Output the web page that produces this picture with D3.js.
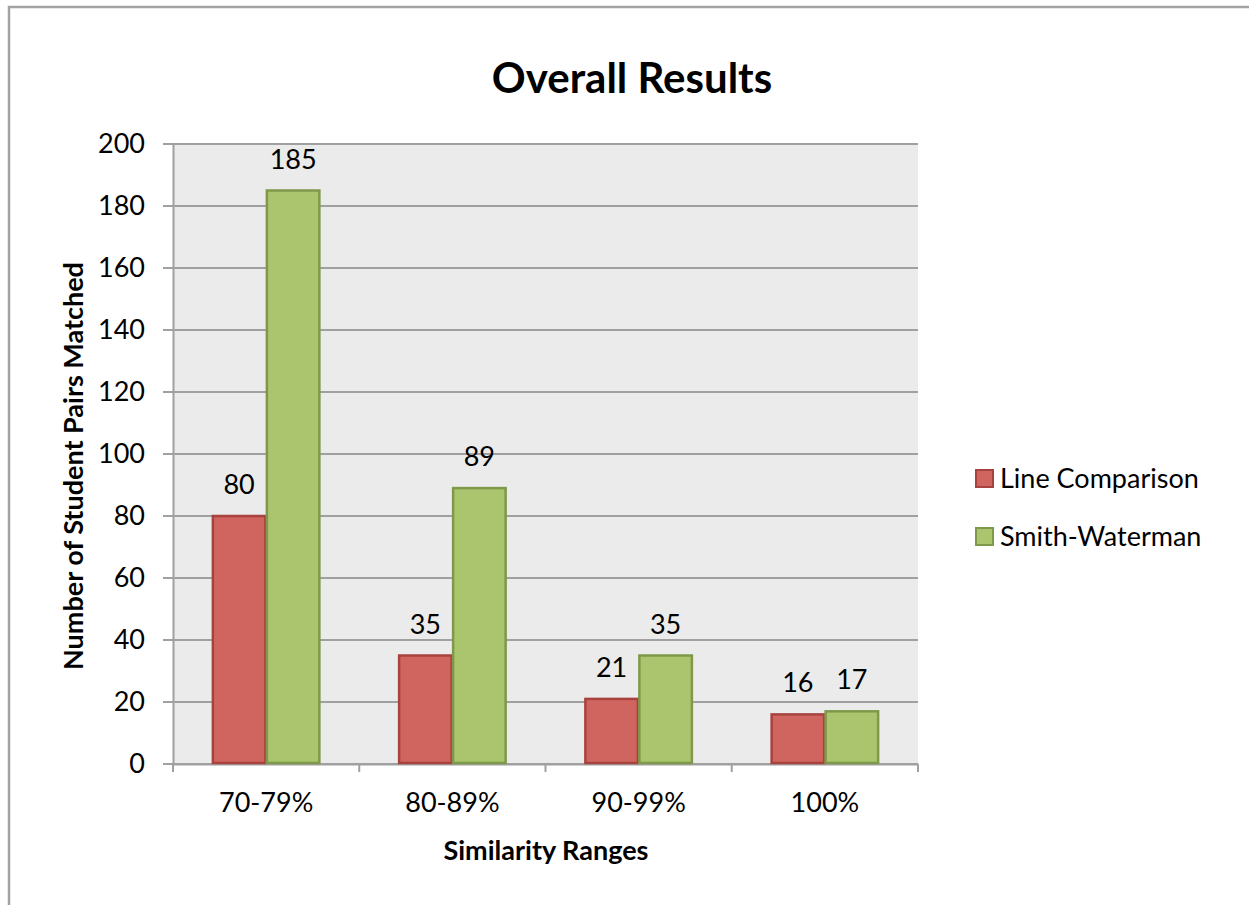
<!DOCTYPE html>
<html>
<head>
<meta charset="utf-8">
<script src="https://cdn.jsdelivr.net/npm/d3@7"></script>
<style>
  body { margin: 0; background: #fff; }
  svg { font-family: Lato, "Open Sans", sans-serif; }
</style>
</head>
<body>
<div id="chart"></div>
<script>
var categories = ["70-79%", "80-89%", "90-99%", "100%"];
var seriesNames = ["Line Comparison", "Smith-Waterman"];
var lineComparison = [80, 35, 21, 16];
var smithWaterman = [185, 89, 35, 17];
var yTicks = [0, 20, 40, 60, 80, 100, 120, 140, 160, 180, 200];

var width = 1249, height = 905;
var margin = {left: 173, right: 331, top: 144, bottom: 141};
var fills = ["#d0655f", "#abc56e"];
var strokes = ["#a8423e", "#7f994a"];
var fontSize = 27;

var svg = d3.select("#chart").append("svg")
    .attr("width", width)
    .attr("height", height);

// outer chart frame (runs off the right/bottom edge)
svg.append("rect")
    .attr("x", 9).attr("y", 7)
    .attr("width", 1300).attr("height", 1000)
    .attr("fill", "#fff")
    .attr("stroke", "#a3a3a3")
    .attr("stroke-width", 2.5);

var x0 = d3.scaleBand()
    .domain(categories)
    .range([margin.left, width - margin.right]);

var barW = 54;
var x1 = d3.scaleBand()
    .domain([0, 1])
    .range([x0.bandwidth() / 2 - barW, x0.bandwidth() / 2 + barW]);

var y = d3.scaleLinear()
    .domain([0, 200])
    .range([height - margin.bottom, margin.top]);

// plot background
svg.append("rect")
    .attr("x", margin.left).attr("y", margin.top)
    .attr("width", width - margin.left - margin.right)
    .attr("height", height - margin.top - margin.bottom)
    .attr("fill", "#ebebeb");

// gridlines
svg.append("g")
    .selectAll("line")
    .data(yTicks)
    .enter().append("line")
    .attr("x1", margin.left - 10)
    .attr("x2", width - margin.right)
    .attr("y1", function(d) { return y(d); })
    .attr("y2", function(d) { return y(d); })
    .attr("stroke", "#a0a0a0")
    .attr("stroke-width", 2);

// y axis
var yAxis = svg.append("g")
    .attr("transform", "translate(" + margin.left + ",0)")
    .call(d3.axisLeft(y).tickValues(yTicks).tickSize(0).tickPadding(28));
yAxis.select(".domain").attr("stroke", "#a0a0a0").attr("stroke-width", 2);
yAxis.selectAll("text").attr("font-size", fontSize).attr("fill", "#000")
    .style("font-family", "Lato, 'Open Sans', sans-serif");

// x axis
var xAxis = svg.append("g")
    .attr("transform", "translate(0," + (height - margin.bottom) + ")")
    .call(d3.axisBottom(x0).tickSize(0).tickPadding(29));
xAxis.select(".domain").attr("stroke", "#a0a0a0").attr("stroke-width", 2);
xAxis.selectAll("text").attr("font-size", fontSize).attr("fill", "#000")
    .style("font-family", "Lato, 'Open Sans', sans-serif");

// category separator ticks
var edges = categories.map(function(c) { return x0(c); });
edges.push(x0(categories[categories.length - 1]) + x0.bandwidth());
svg.append("g")
    .selectAll("line")
    .data(edges)
    .enter().append("line")
    .attr("x1", function(d) { return d; })
    .attr("x2", function(d) { return d; })
    .attr("y1", height - margin.bottom)
    .attr("y2", height - margin.bottom + 8)
    .attr("stroke", "#a0a0a0")
    .attr("stroke-width", 2);

// bars
var rows = categories.map(function(c, i) {
    return {cat: c, values: [lineComparison[i], smithWaterman[i]]};
});

var groups = svg.append("g")
    .selectAll("g")
    .data(rows)
    .enter().append("g")
    .attr("transform", function(d) { return "translate(" + x0(d.cat) + ",0)"; });

groups.selectAll("rect")
    .data(function(d) { return d.values.map(function(v, k) { return {k: k, v: v}; }); })
    .enter().append("rect")
    .attr("x", function(d) { return x1(d.k) + 0.75; })
    .attr("y", function(d) { return y(d.v); })
    .attr("width", x1.bandwidth() - 1.5)
    .attr("height", function(d) { return y(0) - y(d.v) - 1; })
    .attr("fill", function(d) { return fills[d.k]; })
    .attr("stroke", function(d) { return strokes[d.k]; })
    .attr("stroke-width", 2.5);

groups.selectAll("text")
    .data(function(d) { return d.values.map(function(v, k) { return {k: k, v: v}; }); })
    .enter().append("text")
    .attr("x", function(d) { return x1(d.k) + x1.bandwidth() / 2; })
    .attr("y", function(d) { return y(d.v) - 22; })
    .attr("text-anchor", "middle")
    .attr("font-size", fontSize)
    .text(function(d) { return d.v; });

// title
svg.append("text")
    .attr("x", 632).attr("y", 93)
    .attr("text-anchor", "middle")
    .attr("font-size", 42)
    .attr("font-weight", "bold")
    .text("Overall Results");

// axis titles
svg.append("text")
    .attr("x", 546).attr("y", 860)
    .attr("text-anchor", "middle")
    .attr("font-size", 27)
    .attr("font-weight", "bold")
    .text("Similarity Ranges");

svg.append("text")
    .attr("transform", "translate(83,466) rotate(-90)")
    .attr("text-anchor", "middle")
    .attr("font-size", 27)
    .attr("font-weight", "bold")
    .text("Number of Student Pairs Matched");

// legend
var legend = svg.append("g")
    .selectAll("g")
    .data(seriesNames)
    .enter().append("g")
    .attr("transform", function(d, i) { return "translate(976," + (470 + i * 58) + ")"; });

legend.append("rect")
    .attr("width", 17).attr("height", 17)
    .attr("fill", function(d, i) { return fills[i]; })
    .attr("stroke", function(d, i) { return strokes[i]; })
    .attr("stroke-width", 2);

legend.append("text")
    .attr("x", 24).attr("y", 18)
    .attr("font-size", fontSize)
    .text(function(d) { return d; });
</script>
</body>
</html>
